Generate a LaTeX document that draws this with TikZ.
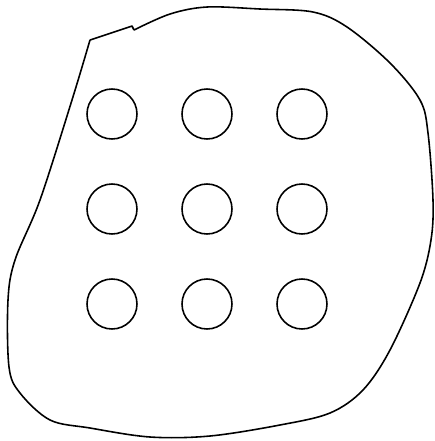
\documentclass[tikz,border=0pt]{standalone}
\usepackage{tikz}
\usetikzlibrary{positioning}
\tikzset{
  outline/.style = {draw=black, line width=0.9pt, line join=round},
  hole/.style    = {circle, draw=black, line width=0.9pt, minimum size=1.0cm,
                    inner sep=0pt},
}

\begin{document}
\begin{tikzpicture}[x=0.02cm, y=-0.02cm]

  \useasboundingbox (0,0) rectangle (435,441);

  % irregular plate
  \draw[outline] (90,40) -- (132,26) -- (134,30)
    plot[smooth, tension=0.55] coordinates {
      (134,30) (170,14) (207,7) (260,9) (313,12) (347,27) (390,63)
      (420,100) (428,133) (433,200) (431,240) (420,283) (390,350)
      (363,390) (330,413) (280,425) (210,436) (150,437) (90,428)
      (50,420) (20,393) (9,367) (8,300) (15,260) (40,200) (72,100) (90,40)};

  % grid of holes
  \foreach \r/\y in {1/114, 2/209, 3/304} {
    \foreach \c/\x in {1/112, 2/207, 3/302} {
      \node[hole] (h\r\c) at (\x,\y) {};
    }
  }

\end{tikzpicture}
\end{document}
